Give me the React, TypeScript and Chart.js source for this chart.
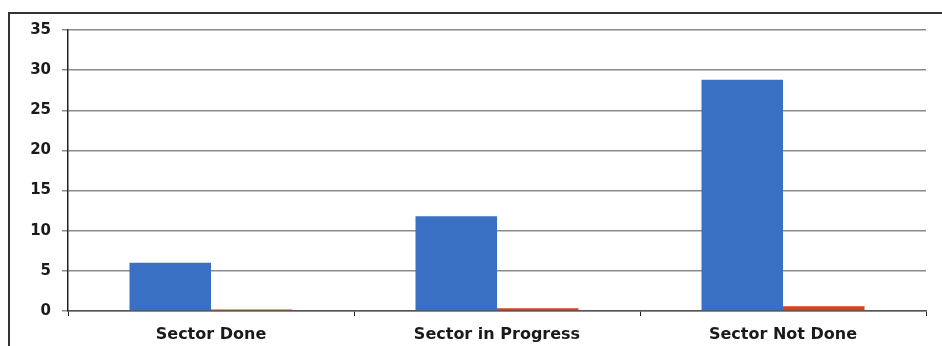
import React, { useEffect, useRef } from "react";
import { Chart, registerables } from "chart.js";

Chart.register(...registerables);

const categories = ["Sector Done", "Sector in Progress", "Sector Not Done"];
const seriesBlue = [6, 11.8, 28.8];
const seriesRed = [0.2, 0.35, 0.6];
const yTickMin = 0;
const yTickMax = 35;
const yTickStep = 5;

export default function App() {
  const ref = useRef<HTMLCanvasElement | null>(null);
  useEffect(() => {
    if (!ref.current) return;
    const chart = new Chart(ref.current, {
      type: "bar",
      data: {
        labels: categories,
        datasets: [
          { label: "A", data: seriesBlue, backgroundColor: "#3a70c4", borderWidth: 0 },
          { label: "B", data: seriesRed, backgroundColor: "#d8401e", borderWidth: 0 },
        ],
      },
      options: {
        animation: false,
        responsive: true,
        maintainAspectRatio: false,
        layout: { padding: { top: 30, right: 16, left: 0, bottom: 0 } },
        plugins: { legend: { display: false }, tooltip: { enabled: false } },
        datasets: { bar: { categoryPercentage: 0.57, barPercentage: 1.0 } },
        scales: {
          x: {
            afterFit: (s: any) => { s.height = 35; },
            grid: { drawOnChartArea: false, drawTicks: true, tickLength: 5, color: "#222", lineWidth: 1, offset: true },
            border: { display: true, color: "#555", width: 1.5 },
            ticks: { color: "#1a1a1a", padding: 9, font: { family: "DejaVu Sans", size: 16, weight: "bold" } },
          },
          y: {
            min: yTickMin,
            max: yTickMax,
            afterFit: (s: any) => { s.width = 68; },
            grid: { color: "#8a8a8a", lineWidth: 1.5, tickLength: 6, drawTicks: true },
            border: { display: true, color: "#222", width: 1.5 },
            ticks: { stepSize: yTickStep, color: "#1a1a1a", padding: 11, font: { family: "DejaVu Sans", size: 15, weight: "bold" } },
          },
        },
      },
    });
    return () => chart.destroy();
  }, []);
  return (
    <div style={{ position: "fixed", left: 0, top: 0, width: 942, height: 346, background: "#fff" }}>
      <div style={{ position: "absolute", left: 0, top: 0, width: 942, height: 346 }}>
        <canvas ref={ref} />
      </div>
      <div style={{ position: "absolute", left: 8, top: 12, width: 940, height: 340, borderTop: "2px solid #333", borderLeft: "2px solid #333", pointerEvents: "none" }} />
    </div>
  );
}
